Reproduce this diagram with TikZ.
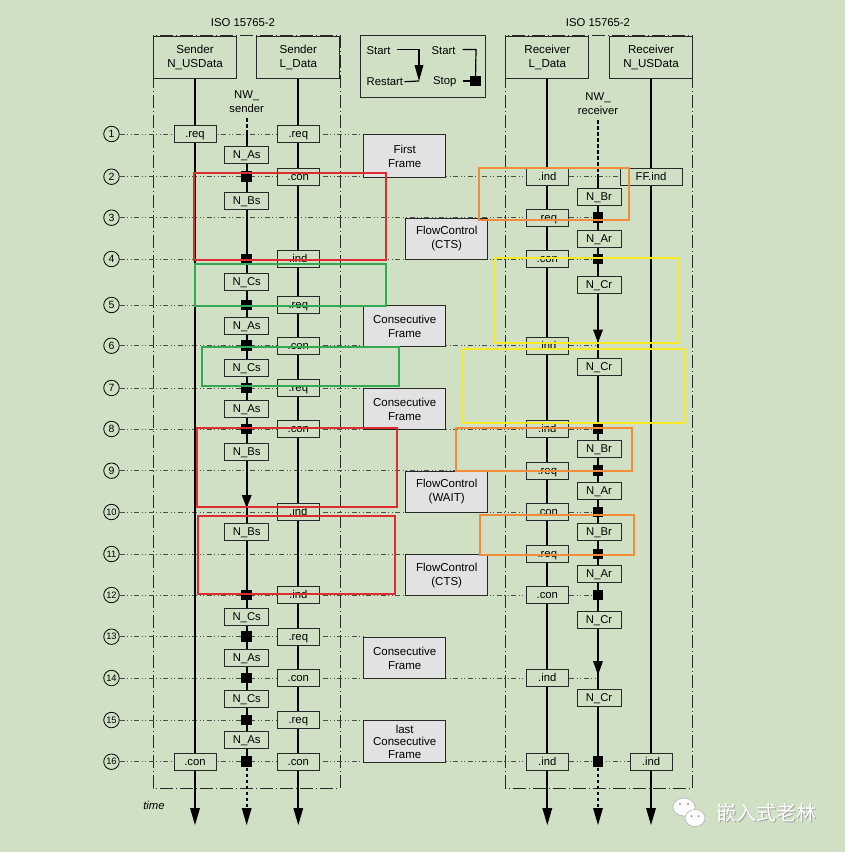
\documentclass[tikz,border=0pt]{standalone}
\usepackage{fontspec}
\setmainfont{Liberation Sans}
\newfontfamily\cjkfont{Noto Sans CJK SC}
\usetikzlibrary{calc}
\pgfdeclarelayer{back}
\pgfdeclarelayer{lines}
\pgfdeclarelayer{front}
\pgfsetlayers{back,lines,main,front}
\definecolor{bg}{RGB}{207,224,197}
\definecolor{frmfill}{RGB}{226,226,226}
\definecolor{hlred}{RGB}{222,44,48}
\definecolor{hlgreen}{RGB}{52,168,82}
\definecolor{hlorange}{RGB}{240,140,58}
\definecolor{hlyellow}{RGB}{248,232,40}
\definecolor{ink}{RGB}{40,40,40}
\tikzset{
  txt/.style={font=\fontsize{11.3}{14.5}\selectfont, inner sep=1pt},
  hdr/.style={draw=ink, line width=1pt, fill=bg, minimum width=83pt, minimum height=42.3pt, inner sep=0pt, align=center, font=\fontsize{11.6}{13.5}\selectfont},
  lbl/.style={draw=ink, line width=0.9pt, fill=bg, minimum width=42pt, minimum height=17pt, inner sep=0pt, text height=9pt, text depth=2pt, font=\fontsize{11.3}{12}\selectfont},
  tmr/.style={lbl, minimum width=44pt},
  frm/.style={draw=ink, line width=1.1pt, fill=frmfill, inner sep=0pt, align=center, anchor=north west, font=\fontsize{11.5}{14}\selectfont},
  rowline/.style={draw=black!70, line width=0.8pt, dash pattern=on 5pt off 2.5pt on 1pt off 2.5pt on 1pt off 2.5pt},
  region/.style={draw=ink, line width=1pt, dash pattern=on 13pt off 3pt on 1pt off 3pt},
  life/.style={draw=black, line width=2pt},
  nwdash/.style={draw=black, line width=2pt, dash pattern=on 3.5pt off 2.5pt},
  stopsq/.style={fill=black, minimum size=10.5pt, inner sep=0pt},
  num/.style={circle, draw=black, line width=0.8pt, fill=bg, minimum size=15.5pt, inner sep=0pt, font=\fontsize{10.5}{10.5}\selectfont},
  legline/.style={draw=black, line width=1.2pt},
  hl/.style={line width=2pt},
}
\begin{document}
\begin{tikzpicture}[x=1pt,y=-1pt]
\begin{pgfonlayer}{back}
  \fill[bg] (0,0) rectangle (845,852);
  \draw[region] (153.3,35) rectangle (340,788);
  \draw[region] (505.7,35) rectangle (692.3,788);
\end{pgfonlayer}
\useasboundingbox (0,0) rectangle (845,852);

% columns
\coordinate (colSN) at (195,0);
\coordinate (colNS) at (246.7,0);
\coordinate (colSL) at (298.3,0);
\coordinate (colRL) at (547.3,0);
\coordinate (colNR) at (598,0);
\coordinate (colRN) at (651,0);
\coordinate (tEnd) at (0,808);

% titles and headers
\node[txt] (iso1) at (243,23) {ISO 15765-2};
\node[txt] (iso2) at (598,23) {ISO 15765-2};
\node[hdr] (hSN) at (195,57.2) {Sender\\N\_USData};
\node[hdr] (hSL) at (298.3,57.2) {Sender\\L\_Data};
\node[hdr] (hRL) at (547.3,57.2) {Receiver\\L\_Data};
\node[hdr] (hRN) at (651,57.2) {Receiver\\N\_USData};
\node[txt, align=center] (nwS) at (246.7,101.5) {NW\_\\sender};
\node[txt, align=center] (nwR) at (598,103.5) {NW\_\\receiver};
\coordinate (nwSt) at (246.7,118);
\coordinate (nwRt) at (598,120);

% legend
\node[draw=ink, line width=1pt, fill=bg, minimum width=124.3pt, minimum height=62.7pt, inner sep=0pt] (leg) at (422.9,66.4) {};
\node[txt, anchor=west] (lgS1) at (365.5,50.5) {Start};
\node[txt, anchor=west] (lgR) at (365.5,82) {Restart};
\node[txt, anchor=west] (lgS2) at (430.5,50.5) {Start};
\node[txt, anchor=west] (lgSt) at (432,82) {Stop};
\coordinate (lgA0) at (397,49.5);
\coordinate (lgA1) at (419,49.5);
\coordinate (lgAt) at (419,81);
\coordinate (lgR0) at (404.5,81.7);
\coordinate (lgB0) at (462.5,49.5);
\coordinate (lgB1) at (476,49.5);
\node[stopsq] (lgSq) at (475.5,81) {};
\coordinate (lgT0) at (462.5,81);
\draw[legline] (lgA0) -- (lgA1) -- ($(lgAt)+(0,-12)$);
\fill (lgAt) -- ++(-4.5,-16) -- ++(9,0) -- cycle;
\draw[legline] (lgR0) -- (lgAt);
\draw[legline] (lgB0) -- (lgB1) -- (lgSq.center);
\draw[legline] (lgT0) -- (lgSq.west);

% rows
\foreach \n/\y in {1/134,2/176.7,3/217.7,4/259,5/305,6/345.7,7/388,8/429,9/470.7,10/512,11/554,12/595,13/636.7,14/678,15/720,16/761.7}{
  \coordinate (r\n) at (0,\y);
  \node[num] (c\n) at (111.5,\y) {\ifnum\n>9 \fontsize{9.3}{9.3}\selectfont\fi\n};
}

% frame boxes
\node[frm, minimum width=81.7pt, minimum height=42.7pt] (fr1) at (363.3,134) {First\\Frame};
\node[frm, minimum width=82.3pt, minimum height=41.3pt] (fr2) at (405,217.7) {FlowControl\\(CTS)};
\node[frm, minimum width=81.7pt, minimum height=40.7pt] (fr3) at (363.3,305) {Consecutive\\Frame};
\node[frm, minimum width=81.7pt, minimum height=41pt] (fr4) at (363.3,388) {Consecutive\\Frame};
\node[frm, minimum width=82.3pt, minimum height=41.3pt] (fr5) at (405,470.7) {FlowControl\\(WAIT)};
\node[frm, minimum width=82.3pt, minimum height=41pt] (fr6) at (405,554) {FlowControl\\(CTS)};
\node[frm, minimum width=81.7pt, minimum height=41.3pt] (fr7) at (363.3,636.7) {Consecutive\\Frame};
\node[frm, minimum width=81.7pt, minimum height=41.7pt, font=\fontsize{11.5}{12.5}\selectfont] (fr8) at (363.3,720) {last\\Consecutive\\Frame};

% primitive labels
\node[lbl] (sn1) at (colSN |- r1) {.req};
\node[lbl] (sn16) at (colSN |- r16) {.con};
\foreach \n/\t in {1/.req,2/.con,4/.ind,5/.req,6/.con,7/.req,8/.con,10/.ind,12/.ind,13/.req,14/.con,15/.req,16/.con}
  \node[lbl] (sl\n) at (colSL |- r\n) {\t};
\foreach \n/\t in {2/.ind,3/.req,4/.con,6/.ind,8/.ind,9/.req,10/.con,11/.req,12/.con,14/.ind,16/.ind}
  \node[lbl] (rl\n) at (colRL |- r\n) {\t};
\node[lbl, minimum width=62pt] (rn2) at (651,176.7) {FF.ind};
\node[lbl] (rn16) at (colRN |- r16) {.ind};

% timers
\foreach \i/\y/\t in {1/155.3/N\_As,2/201/N\_Bs,3/282/N\_Cs,4/325.7/N\_As,5/368/N\_Cs,6/409/N\_As,7/452/N\_Bs,8/532/N\_Bs,9/616.5/N\_Cs,10/658/N\_As,11/699/N\_Cs,12/740/N\_As}
  \node[tmr] (ts\i) at (246.7,\y) {\t};
\foreach \i/\y/\t in {1/197/N\_Br,2/239/N\_Ar,3/285/N\_Cr,4/367/N\_Cr,5/449/N\_Br,6/490.7/N\_Ar,7/532/N\_Br,8/574/N\_Ar,9/620/N\_Cr,10/698.3/N\_Cr}
  \node[tmr] (tr\i) at (599,\y) {\t};

% stop squares
\foreach \n in {2,4,5,6,7,8,12,13,14,15,16}
  \node[stopsq] (ss\n) at (colNS |- r\n) {};
\foreach \n in {3,4,8,9,10,11,12,16}
  \node[stopsq] (rs\n) at (colNR |- r\n) {};

% restart arrows
\coordinate (rsS10) at ($(colNS |- r10)+(0,-4)$);
\coordinate (rsR6) at ($(colNR |- r6)+(0,-3)$);
\coordinate (rsR14) at ($(colNR |- r14)+(0,-3)$);
\fill (rsS10) -- ++(-5,-13) -- ++(10,0) -- cycle;
\fill (rsR6) -- ++(-5,-13) -- ++(10,0) -- cycle;
\fill (rsR14) -- ++(-5,-14) -- ++(10,0) -- cycle;

% bottom arrows
\foreach \c in {hSN,hSL,hRL,hRN}
  \fill ($(\c.south |- tEnd)+(0,17)$) -- ++(-5,-17) -- ++(10,0) -- cycle;
\fill ($(colNS |- tEnd)+(0,17)$) -- ++(-5,-17) -- ++(10,0) -- cycle;
\fill ($(colNR |- tEnd)+(0,17)$) -- ++(-5,-17) -- ++(10,0) -- cycle;

\node[font=\itshape\fontsize{11.3}{11.3}\selectfont] (time) at (154,805) {time};

\begin{pgfonlayer}{lines}
  % row lines
  \draw[rowline] (c1.east) -- (fr1.north west);
  \draw[rowline] (c2.east) -- (rn2.west);
  \draw[rowline] (c3.east) -- (colNR |- r3);
  \draw[rowline] (c4.east) -- (colNR |- r4);
  \draw[rowline] (c5.east) -- (fr3.north west);
  \draw[rowline] (c6.east) -- (colNR |- r6);
  \draw[rowline] (c7.east) -- (fr4.north west);
  \draw[rowline] (c8.east) -- (colNR |- r8);
  \draw[rowline] (c9.east) -- (colNR |- r9);
  \draw[rowline] (c10.east) -- (colNR |- r10);
  \draw[rowline] (c11.east) -- (colNR |- r11);
  \draw[rowline] (c12.east) -- (colNR |- r12);
  \draw[rowline] (c13.east) -- (fr7.north west);
  \draw[rowline] (c14.east) -- (colNR |- r14);
  \draw[rowline] (c15.east) -- (fr8.north west);
  \draw[rowline] (c16.east) -- (rn16.west);
  % lifelines
  \foreach \c in {hSN,hSL,hRL,hRN}
    \draw[life] (\c.south) -- (\c.south |- tEnd);
  \draw[nwdash] (nwSt) -- (colNS |- r1);
  \draw[life] (colNS |- r1) -- (colNS |- r16);
  \draw[nwdash] (colNS |- r16) -- (colNS |- tEnd);
  \draw[nwdash] (nwRt) -- (colNR |- r2);
  \draw[life] (colNR |- r2) -- (colNR |- r16);
  \draw[nwdash] (colNR |- r16) -- (colNR |- tEnd);
\end{pgfonlayer}

\begin{pgfonlayer}{front}
  \draw[hl, hlred] (194,173.3) rectangle (386,260);
  \draw[hl, hlred] (196.7,427.7) rectangle (396.7,506.7);
  \draw[hl, hlred] (197.7,515.7) rectangle (395,594.3);
  \draw[hl, hlgreen] (194.7,264) rectangle (386,305.7);
  \draw[hl, hlgreen] (201.7,346.7) rectangle (399.3,386);
  \draw[hl, hlorange] (479,167.7) rectangle (629.3,220.3);
  \draw[hl, hlorange] (455.7,428.3) rectangle (632.3,470.7);
  \draw[hl, hlorange] (480,515) rectangle (634,555);
  \draw[hl, hlyellow] (495,258.3) rectangle (679.3,342.7);
  \draw[hl, hlyellow] (462.7,349) rectangle (684,422.7);
  % watermark
  \draw[black!30, fill=white, line width=0.6pt] (684,807) ellipse (11 and 9);
  \draw[black!30, fill=white, line width=0.6pt] (695,818) ellipse (10 and 8.5);
  \fill[black!40] (680,804) circle (1.2) (688,804) circle (1.2) (691.5,816) circle (1) (698.5,816) circle (1);
  \node[anchor=west, text=black!35, font=\cjkfont\fontsize{20}{20}\selectfont] (wmS) at (713.8,813.8) {嵌入式老林};
  \node[anchor=west, text=white, font=\cjkfont\fontsize{20}{20}\selectfont] (wm) at (713,813) {嵌入式老林};
\end{pgfonlayer}
\end{tikzpicture}
\end{document}
